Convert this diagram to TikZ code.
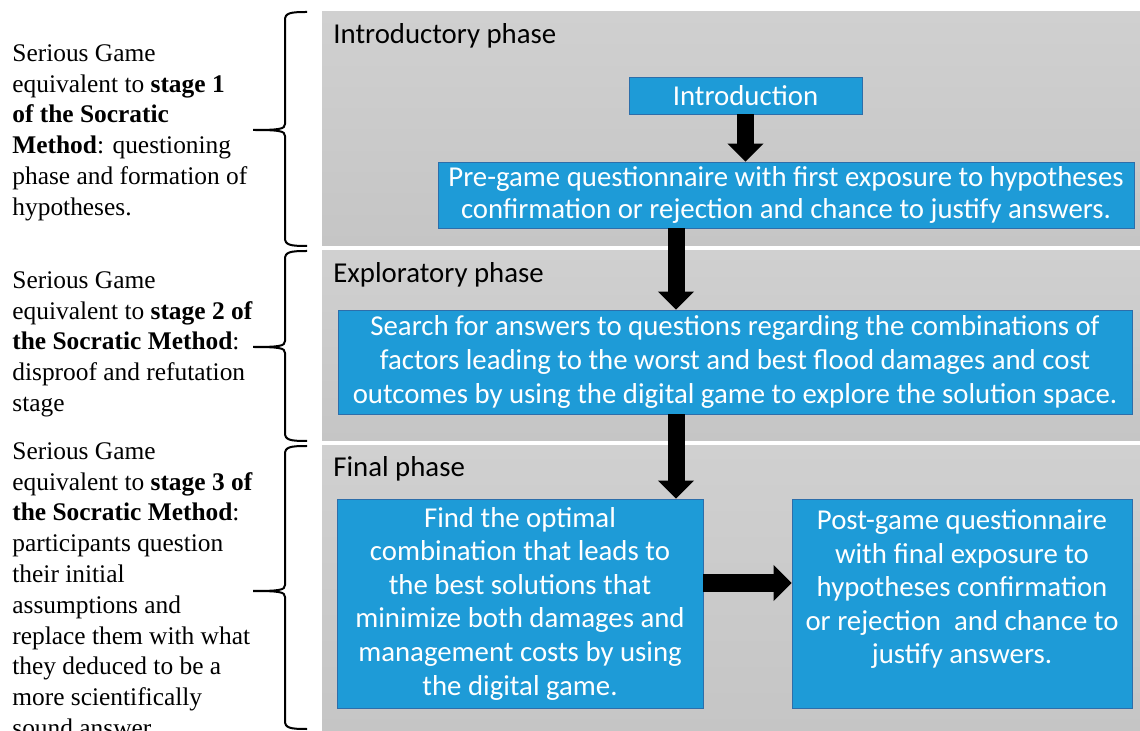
\documentclass[tikz,border=0pt]{standalone}
\usepackage{fontspec}
\setmainfont{Liberation Serif}
\newfontfamily\calfont{Carlito}
\usetikzlibrary{arrows.meta}
\definecolor{boxblue}{RGB}{30,155,215}
\definecolor{boxedge}{RGB}{45,110,170}
\definecolor{panelgray}{RGB}{208,208,208}
\definecolor{panelgraydark}{RGB}{197,197,197}
% curly brace: top, tip and bottom of it
\newcommand{\stagebrace}[3]{\draw[line width=1pt] (307,#1) .. controls (290,#1) and (285,#1+1) .. (285,#1+8) -- (285,#2-6) .. controls (285,#2-1) and (280,#2) .. (253,#2) .. controls (280,#2) and (285,#2+1) .. (285,#2+6) -- (285,#3-8) .. controls (285,#3-1) and (290,#3) .. (307,#3);}

\begin{document}
\begin{tikzpicture}[x=0.5pt,y=-0.5pt]
    %
    % `panel' is the gray background of each phase.
    % `stepbox' is used by the blue boxes.
    % `bigarrow' is the thick black arrow between two boxes.
    \tikzstyle{panel} = [top color=panelgray,bottom color=panelgraydark,draw=none]
    \tikzstyle{stepbox} = [draw=boxedge,fill=boxblue,text=white,align=center,inner sep=1pt,font=\calfont\fontsize{14.4}{16.8}\selectfont]
    \tikzstyle{phasename} = [anchor=base west,inner sep=0pt,font=\calfont\fontsize{14.4}{16.8}\selectfont]
    \tikzstyle{stagetext} = [anchor=north west,inner sep=0pt,align=left,font=\fontsize{12.7}{15.4}\selectfont]
    \tikzstyle{bigarrow} = [line width=8.5pt,-{Triangle[width=17.5pt,length=9pt]}]
    %
    \useasboundingbox (0,0) rectangle (1140,731);
    %
    % Phase panels
    \shade[panel] (322,12) rectangle (1140,246);
    \shade[panel] (322,251) rectangle (1140,441);
    \shade[panel] (322,446) rectangle (1140,731);
    \node[phasename] (introname) at (333,44) {Introductory phase};
    \node[phasename] (exploname) at (333,283) {Exploratory phase};
    \node[phasename] (finalname) at (333,477) {Final phase};
    %
    % Stages of the Socratic Method
    \node[stagetext] (stageone) at (12,44) {Serious Game\\ equivalent to \textbf{stage 1}\\ \textbf{of the Socratic}\\ \textbf{Method}: questioning\\ phase and formation of\\ hypotheses.};
    \node[stagetext] (stagetwo) at (12,271) {Serious Game\\ equivalent to \textbf{stage 2 of}\\ \textbf{the Socratic Method}:\\ disproof and refutation\\ stage};
    \node[stagetext] (stagethree) at (12,442) {Serious Game\\ equivalent to \textbf{stage 3 of}\\ \textbf{the Socratic Method}:\\ participants question\\ their initial\\ assumptions and\\ replace them with what\\ they deduced to be a\\ more scientifically\\ sound answer.};
    %
    % Braces
    \stagebrace{12}{130}{246}
    \stagebrace{251}{347}{441}
    \stagebrace{446}{591}{729}
    %
    % Introductory phase
    \node[stepbox,minimum width=116.5pt,minimum height=18.5pt] (intro) at (745.5,95.5) {Introduction};
    \node[stepbox,minimum width=348pt,minimum height=33pt,font=\calfont\fontsize{14.4}{15.6}\selectfont] (pregame) at (786,195) {Pre-game questionnaire with first exposure to hypotheses\\ confirmation or rejection and chance to justify answers.};
    %
    % Exploratory phase
    \node[stepbox,minimum width=397pt,minimum height=52pt,inner xsep=0pt] (search) at (735,362) {Search for answers to questions regarding the combinations of\\ factors leading to the worst and best flood damages and cost\\ outcomes by using the digital game to explore the solution space.};
    %
    % Final phase
    \node[stepbox,minimum width=183pt,minimum height=104.5pt] (find) at (520,603.5) {Find the optimal\\ combination that leads to\\ the best solutions that\\ minimize both damages and\\ management costs by using\\ the digital game.};
    \node[stepbox,minimum width=170pt,minimum height=104.5pt] (post) at (962,603.5) {Post-game questionnaire\\ with final exposure to\\ hypotheses confirmation\\ or rejection~ and chance to\\ justify answers.\\ \mbox{}};
    %
    % Arrows
    \coordinate (spine) at (676,0);
    \coordinate (midrow) at (0,583);
    \draw[bigarrow] (intro.south) -- (intro.south |- pregame.north);
    \draw[bigarrow] (pregame.south -| spine) -- (search.north -| spine);
    \draw[bigarrow] (search.south -| spine) -- (find.north -| spine);
    \draw[bigarrow] (find.east |- midrow) -- (post.west |- midrow);
    %
\end{tikzpicture}
\end{document}
